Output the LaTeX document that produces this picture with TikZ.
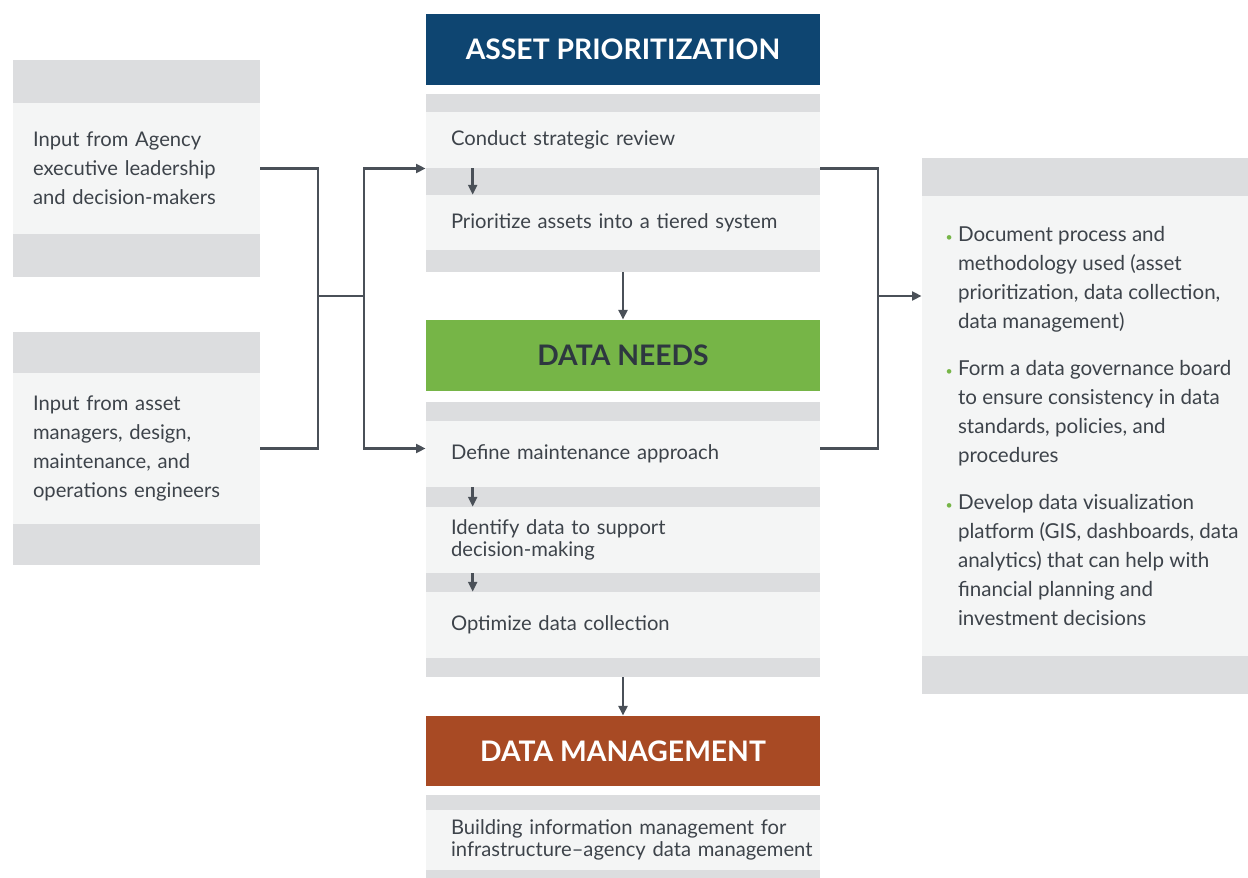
\documentclass[tikz,border=0pt]{standalone}
\usepackage{fontspec}
\setmainfont{Lato}
\usepackage{xcolor}
\usepackage{tikz}
\usetikzlibrary{positioning,arrows.meta}
\hfuzz=40pt
\definecolor{apblue}{HTML}{0E4571}
\definecolor{dngreen}{HTML}{76B547}
\definecolor{dmrust}{HTML}{A84A24}
\definecolor{bandgray}{HTML}{DCDDDF}
\definecolor{boxlight}{HTML}{F4F5F5}
\definecolor{inkgray}{HTML}{3D434A}
\definecolor{dnink}{HTML}{2E3740}
\definecolor{linegray}{HTML}{4A5058}
\newcommand{\bodyfont}{\fontsize{11.5}{16.5}\selectfont}
\newcommand{\tightfont}{\fontsize{11.5}{12.6}\selectfont}
\newcommand{\gdot}{\llap{\textcolor{dngreen}{\scriptsize\textbullet}\hspace{3pt}}}
\tikzset{head/.style={minimum width=7.88cm,minimum height=1.42cm,inner sep=0pt,font=\fontsize{16.1}{19}\selectfont\bfseries,text=white},
grp/.style={fill=bandgray,inner sep=0pt},
stepbox/.style={fill=boxlight,minimum width=7.88cm,text width=6.88cm,inner xsep=0.5cm,inner ysep=0pt,align=left,font=\bodyfont,text=inkgray},
inbox/.style={fill=boxlight,minimum width=4.94cm,text width=4.14cm,inner xsep=0.4cm,inner ysep=0pt,align=left,font=\bodyfont,text=inkgray},
notetext/.style={inner sep=0pt,align=left,font=\fontsize{11.7}{16.5}\selectfont,text=inkgray},
link/.style={draw=linegray,line width=1.4pt}}

\begin{document}
\begin{tikzpicture}[x=0.02cm,y=-0.02cm,>={Triangle[length=5.5pt,width=5pt]}]
    \useasboundingbox (0,0) rectangle (1248,878);

    % inputs
    \node[grp,minimum width=4.94cm,minimum height=4.34cm] (in1grp) at (136.5,168.5) {};
    \node[inbox,minimum height=2.62cm] (in1) at (136.5,168.5) {Input from Agency\\executive leadership\\and decision-makers};
    \node[grp,minimum width=4.94cm,minimum height=4.66cm] (in2grp) at (136.5,448.5) {};
    \node[inbox,minimum height=3.02cm] (in2) at (136.5,448.5) {Input from asset\\managers, design,\\maintenance, and\\operations engineers};

    % asset prioritization
    \node[head,fill=apblue] (ap) at (623,49.5) {ASSET PRIORITIZATION};
    \node[grp,minimum width=7.88cm,minimum height=3.56cm] (apgrp) at (623,183) {};
    \node[stepbox,minimum height=1.12cm] (review) at (623,140) {Conduct strategic review};
    \node[stepbox,minimum height=1.1cm] (tiers) at (623,222.5) {Prioritize assets into a tiered system};

    % data needs
    \node[head,fill=dngreen,text=dnink] (dn) at (623,355.5) {DATA NEEDS};
    \node[grp,minimum width=7.88cm,minimum height=5.5cm] (dngrp) at (623,539.5) {};
    \node[stepbox,minimum height=1.32cm] (approach) at (623,454) {Define maintenance approach};
    \node[stepbox,minimum height=1.32cm,font=\tightfont] (identify) at (623,540) {Identify data to support\\decision-making};
    \node[stepbox,minimum height=1.32cm] (optimize) at (623,625) {Optimize data collection};

    % data management
    \node[head,fill=dmrust,minimum height=1.4cm] (dm) at (623,751) {DATA MANAGEMENT};
    \node[grp,minimum width=7.88cm,minimum height=1.66cm] (dmgrp) at (623,836.5) {};
    \node[stepbox,minimum height=1.2cm,font=\tightfont] (bim) at (623,840) {Building information management for\\\mbox{infrastructure--agency data management}};

    % outcomes
    \node[grp,minimum width=6.52cm,minimum height=10.72cm] (notesgrp) at (1085,426) {};
    \node[fill=boxlight,inner sep=0pt,minimum width=6.52cm,minimum height=9.2cm] (notesbg) at (1085,426) {};
    \node[notetext,right=0.72cm of notesbg.west] (notes) {\gdot Document process and\\methodology used (asset\\prioritization, data collection,\\data management)\\[0.36cm]
    \gdot Form a data governance board\\to ensure consistency in data\\standards, policies, and\\procedures\\[0.36cm]
    \gdot Develop data visualization\\platform (GIS, dashboards, data\\analytics) that can help with\\financial planning and\\investment decisions};

    \coordinate (join) at (318,296);
    \coordinate (split) at (364,296);
    \coordinate (merge) at (878,296);

    \draw [link] (in1.east) -| (join);
    \draw [link] (in2.east) -| (join);
    \draw [link] (join) to (split);
    \draw [link,->] (split) |- (in1.east -| apgrp.west);
    \draw [link,->] (split) |- (in2.east -| dngrp.west);
    \draw [link] (in1.east -| apgrp.east) -| (merge);
    \draw [link] (in2.east -| dngrp.east) -| (merge);
    \draw [link,->] (merge) to (merge -| notesgrp.west);

    \draw [link,->] ([xshift=0.94cm]review.south west) to ([xshift=0.94cm]tiers.north west);
    \draw [link,->] ([xshift=0.94cm]approach.south west) to ([xshift=0.94cm]identify.north west);
    \draw [link,->] ([xshift=0.94cm]identify.south west) to ([xshift=0.94cm]optimize.north west);
    \draw [link,->] (apgrp.south) to (dn.north);
    \draw [link,->] (dngrp.south) to (dm.north);
\end{tikzpicture}
\end{document}
